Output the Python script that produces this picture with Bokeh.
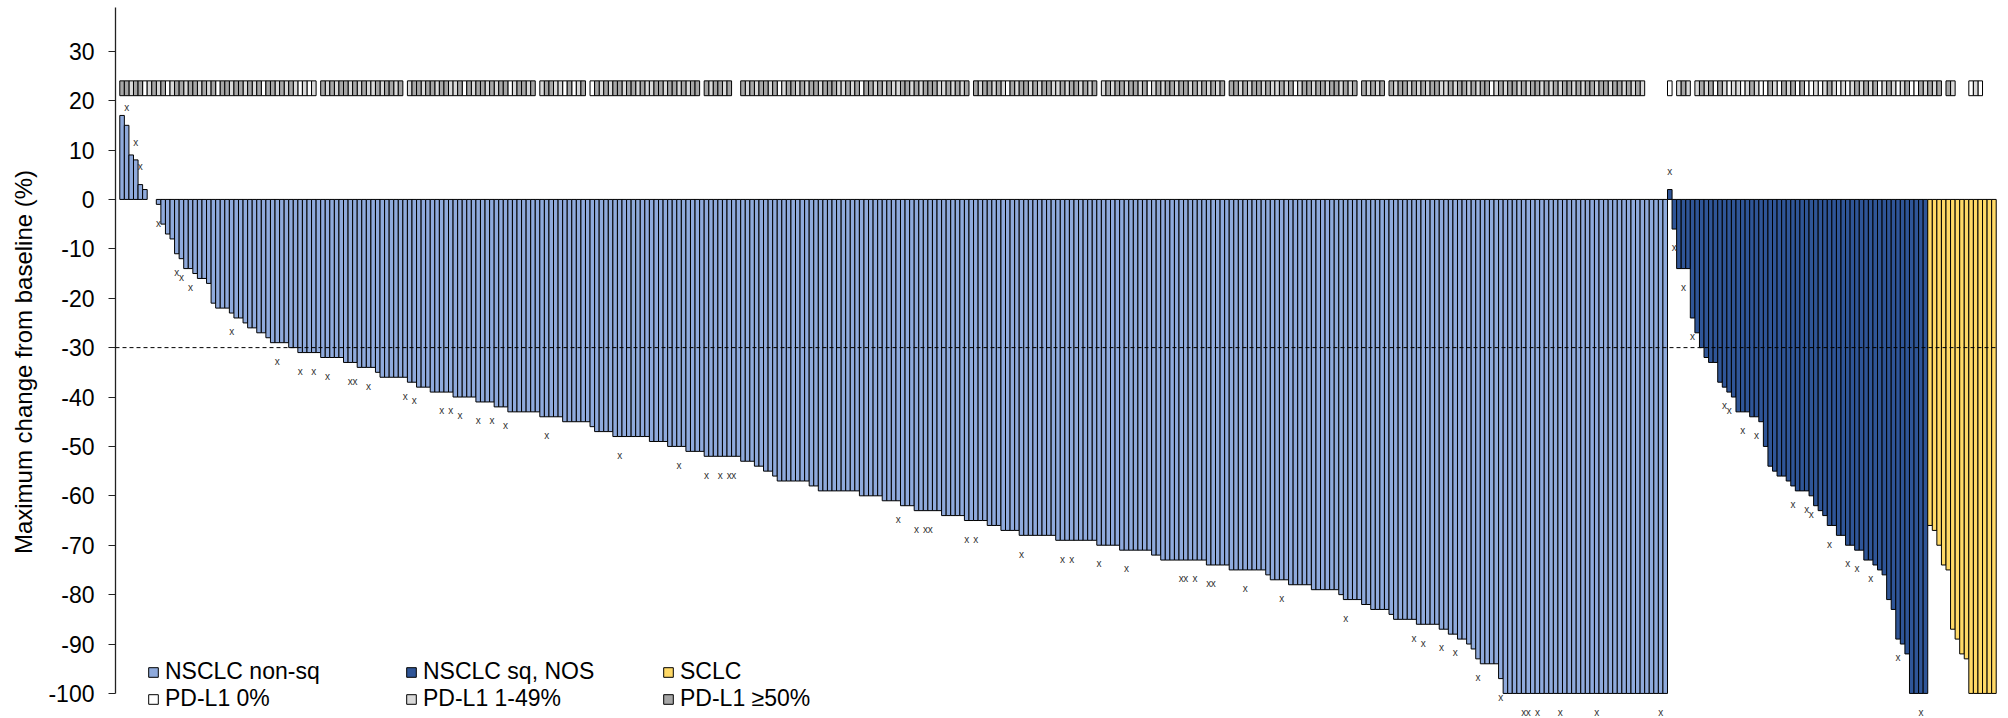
from bokeh.plotting import figure
from bokeh.models import Range1d, Legend, LegendItem, Span
from bokeh.core.properties import value
from bokeh.embed import file_html
from bokeh.resources import INLINE

# Maximum change from baseline (%), per patient, sorted within each group
nsclc_nonsq = [17, 15, 9, 8, 3, 2, 0, 0, -1, -5,
    -7, -8, -11, -12, -14, -14, -15, -16, -16, -17,
    -21, -22, -22, -22, -23, -24, -24, -25, -26, -26,
    -27, -27, -28, -29, -29, -29, -29, -30, -30, -31,
    -31, -31, -31, -31, -32, -32, -32, -32, -32, -33,
    -33, -33, -34, -34, -34, -34, -35, -36, -36, -36,
    -36, -36, -36, -37, -37, -38, -38, -38, -39, -39,
    -39, -39, -39, -40, -40, -40, -40, -40, -41, -41,
    -41, -41, -42, -42, -42, -43, -43, -43, -43, -43,
    -43, -43, -44, -44, -44, -44, -44, -45, -45, -45,
    -45, -45, -45, -46, -47, -47, -47, -47, -48, -48,
    -48, -48, -48, -48, -48, -48, -49, -49, -49, -49,
    -50, -50, -50, -50, -51, -51, -51, -51, -52, -52,
    -52, -52, -52, -52, -52, -52, -53, -53, -53, -54,
    -54, -55, -55, -56, -57, -57, -57, -57, -57, -57,
    -57, -58, -58, -59, -59, -59, -59, -59, -59, -59,
    -59, -59, -60, -60, -60, -60, -60, -61, -61, -61,
    -61, -62, -62, -62, -63, -63, -63, -63, -63, -63,
    -64, -64, -64, -64, -64, -65, -65, -65, -65, -65,
    -66, -66, -66, -67, -67, -67, -67, -68, -68, -68,
    -68, -68, -68, -68, -68, -69, -69, -69, -69, -69,
    -69, -69, -69, -69, -70, -70, -70, -70, -70, -71,
    -71, -71, -71, -71, -71, -71, -72, -72, -73, -73,
    -73, -73, -73, -73, -73, -73, -73, -73, -74, -74,
    -74, -74, -74, -75, -75, -75, -75, -75, -75, -75,
    -75, -76, -77, -77, -77, -77, -78, -78, -78, -78,
    -78, -79, -79, -79, -79, -79, -79, -80, -81, -81,
    -81, -81, -82, -82, -83, -83, -83, -83, -84, -85,
    -85, -85, -85, -85, -86, -86, -86, -86, -86, -87,
    -87, -88, -88, -89, -89, -90, -91, -93, -94, -94,
    -94, -94, -97, -100, -100, -100, -100, -100, -100, -100,
    -100, -100, -100, -100, -100, -100, -100, -100, -100, -100,
    -100, -100, -100, -100, -100, -100, -100, -100, -100, -100,
    -100, -100, -100, -100, -100, -100, -100, -100, -100]

nsclc_sq = [2, -6, -14, -14, -14, -24, -27, -30, -32, -33,
    -33, -37, -38, -39, -40, -43, -43, -43, -44, -44,
    -45, -50, -54, -55, -56, -56, -57, -58, -59, -59,
    -59, -60, -62, -63, -64, -66, -66, -68, -68, -70,
    -70, -71, -71, -73, -73, -74, -75, -76, -81, -83,
    -89, -90, -92, -100, -100, -100, -100]

sclc = [-66, -67, -70, -74, -75, -87, -89, -92, -93, -100,
    -100, -100, -100, -100, -100]

# patients marked with "x" (position within their group)
x_marked_nonsq = [1, 3, 4, 8, 12, 13, 15, 24, 34, 39, 42, 45, 50, 51, 54, 62, 64,
    70, 72, 74, 78, 81, 84, 93, 109, 122, 128, 131, 133, 134, 170, 174, 176,
    177, 185, 187, 197, 206, 208, 214, 220, 232, 233, 235, 238, 239, 246, 254,
    268, 283, 285, 289, 292, 297, 302, 307, 308, 310, 315, 323, 337]
x_marked_sq = [0, 1, 3, 5, 12, 13, 16, 19, 27, 30, 31, 35, 39, 41, 44, 50, 55]

# PD-L1 category per patient, in chart order
# "0": PD-L1 0%, "1": 1-49%, "2": >=50%, "-": not available
pdl1_codes = "".join([
    "2212201212", "0122122121", "2022122121", "2022121210", "101",
    "-", "212122121211212212",
    "-", "1221221221", "1202122121", "22012212",
    "-", "1221102012",
    "-", "0212122122", "1211221221", "2122",
    "-", "212212",
    "--", "2121221201", "2212122122", "2112120221", "2121122121", "2221121212",
    "-", "2122121021", "2212122112", "1221212",
    "-", "1212212212", "0121221221", "2121212",
    "-", "2212122121", "1212012212", "21221212",
    "-", "21212",
    "-", "2122121212", "2112122121", "2201212212", "1221212122", "1212212212", "212121",
    "-----", "0", "-", "121", "-",
    "1212021011", "0121002102", "1202001012", "1010121212", "0121012002", "1212",
    "-", "21", "---", "010", "---",
])

y_ticks = [30, 20, 10, 0, -10, -20, -30, -40, -50, -60, -70, -80, -90, -100]
y_tick_labels = ["30", "20", "10", "0", "-10", "-20", "-30", "-40", "-50", "-60",
                 "-70", "-80", "-90", "-100"]

group_labels = ["NSCLC non-sq", "NSCLC sq, NOS", "SCLC"]
group_colors = ["#8FAADC", "#2F5597", "#FFD966"]
pdl1_labels = ["PD-L1 0%", "PD-L1 1-49%", "PD-L1 \u226550%"]
pdl1_colors = ["#FFFFFF", "#D9D9D9", "#A6A6A6"]

FONT = "Liberation Sans"
groups = [nsclc_nonsq, nsclc_sq, sclc]
marks = [x_marked_nonsq, x_marked_sq, []]
N = sum(len(g) for g in groups)
pdl1 = [None if c == "-" else int(c) for c in pdl1_codes]

Y_TOP, Y_BOT = 38.85, -104.67
p = figure(width=2008, height=718, output_backend="svg", toolbar_location=None,
           x_axis_type=None, x_range=Range1d(-0.94, N + 0.5),
           y_range=Range1d(Y_BOT, Y_TOP),
           min_border_left=115, min_border_right=10, min_border_top=7, min_border_bottom=2)
p.outline_line_color = None
p.ygrid.grid_line_color = None
p.background_fill_color = "white"

ax = p.yaxis[0]
ax.ticker = y_ticks
ax.major_label_overrides = dict(zip(y_ticks, y_tick_labels))
ax.bounds = (-100, Y_TOP)
ax.axis_line_color = "#222222"
ax.axis_line_width = 1.3
ax.major_tick_line_color = "#222222"
ax.major_tick_out = 7
ax.major_tick_in = 0
ax.minor_tick_out = 0
ax.minor_tick_in = 0
ax.major_label_text_font = FONT
ax.major_label_text_font_size = "23px"
ax.major_label_text_color = "black"
ax.major_label_standoff = 14
ax.axis_label = "Maximum change from baseline (%)"
ax.axis_label_text_font = FONT
ax.axis_label_text_font_size = "24px"
ax.axis_label_text_font_style = "normal"
ax.axis_label_text_color = "black"
ax.axis_label_standoff = 8

bar_renderers = []
mx, my = [], []
offset = 0
for g, col, mk in zip(groups, group_colors, marks):
    xs = [offset + i + 0.5 for i, v in enumerate(g) if v != 0]
    tops = [v for v in g if v != 0]
    r = p.vbar(x=xs, top=tops, bottom=0, width=1, fill_color=col,
               line_color="black", line_width=1)
    bar_renderers.append(r)
    for i in mk:
        v = g[i]
        mx.append(offset + i + 0.5)
        my.append(v - 3.8 if v < 0 else v + 3.6)
    offset += len(g)

strip_renderers = []
for code, col in enumerate(pdl1_colors):
    xs = [i + 0.5 for i, c in enumerate(pdl1) if c == code]
    r = p.vbar(x=xs, bottom=21, top=24, width=1, fill_color=col,
               line_color="black", line_width=1)
    strip_renderers.append(r)

p.add_layout(Span(location=-30, dimension="width", line_color="black",
                  line_width=1, line_dash="4 3"))

p.text(x=mx, y=my, text=["x"] * len(mx), text_align="center", text_baseline="middle",
       text_font=value(FONT), text_font_size="10px", text_color="#333333", level="overlay")

legend_x = [32, 290, 547]
for k in range(3):
    leg = Legend(items=[LegendItem(label=group_labels[k], renderers=[bar_renderers[k]]),
                        LegendItem(label=pdl1_labels[k], renderers=[strip_renderers[k]])],
                 location=(legend_x[k], 4), orientation="vertical",
                 glyph_width=12, glyph_height=12, label_standoff=6,
                 label_text_font=FONT, label_text_font_size="23px",
                 label_text_color="black", padding=0, margin=0, spacing=0,
                 border_line_color=None, background_fill_alpha=0,
                 label_height=25)
    p.add_layout(leg)

open("out.html", "w").write(file_html(p, INLINE))
